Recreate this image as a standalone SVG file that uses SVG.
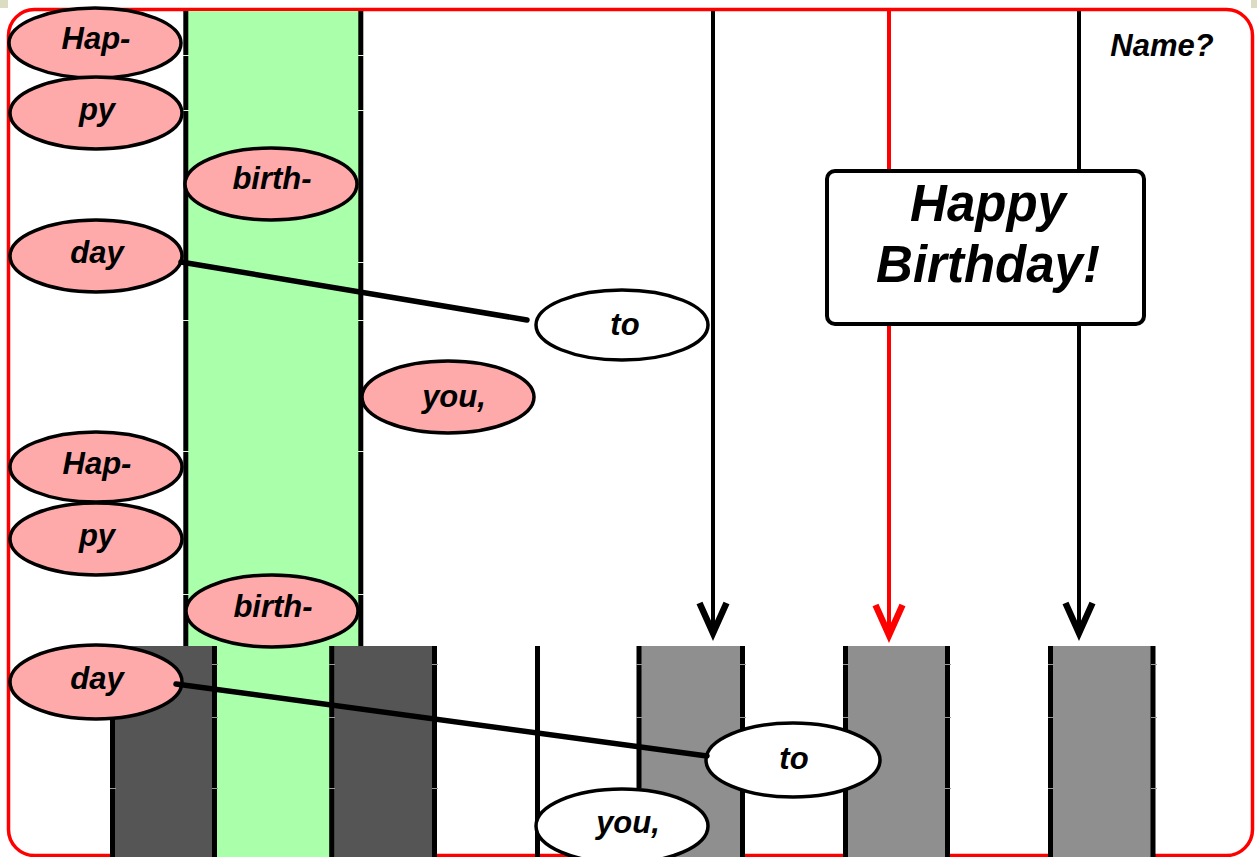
<svg xmlns="http://www.w3.org/2000/svg" width="1257" height="857" viewBox="0 0 1257 857">
<style>
.lbl{font-family:"Liberation Sans",Arial,sans-serif;font-weight:bold;font-style:italic;font-size:31px;fill:#000;text-anchor:middle}
.big{font-size:51px}
.pink{fill:#ffaaaa;stroke:#000;stroke-width:3.5}
.white{fill:#fff;stroke:#000;stroke-width:3.5}
.edge{stroke:#000;stroke-width:5}
.tickG{stroke:#d8ffd8;stroke-width:1}
.tickD{stroke:#9a9a9a;stroke-width:1}
.conn{stroke:#000;stroke-width:5.5;stroke-linecap:round;fill:none}
.vk{stroke:#000;stroke-width:4;fill:none}
.vr{stroke:#ff0000;stroke-width:4;fill:none}
</style>
<defs>
<marker id="arrK" markerUnits="userSpaceOnUse" orient="auto" refX="0" refY="0" markerWidth="60" markerHeight="40" overflow="visible">
<path d="M-33,-13.5 L-3,0 L-33,13.5" fill="none" stroke="#000" stroke-width="6.5" stroke-linejoin="miter" stroke-miterlimit="10"/>
</marker>
<marker id="arrR" markerUnits="userSpaceOnUse" orient="auto" refX="0" refY="0" markerWidth="60" markerHeight="40" overflow="visible">
<path d="M-33,-13.5 L-3,0 L-33,13.5" fill="none" stroke="#ff0000" stroke-width="6.5" stroke-linejoin="miter" stroke-miterlimit="10"/>
</marker>
</defs>
<rect x="0" y="0" width="1257" height="857" fill="#fff"/>
<rect x="0" y="0" width="8" height="8" fill="#dcdcc2"/>
<rect x="1251" y="0" width="6" height="8" fill="#dcdcc2"/>
<rect id="frame" x="8.5" y="9.5" width="1244" height="846" rx="26" fill="none" stroke="#ff0000" stroke-width="3.5"/>

<g id="column">
<rect x="186" y="11" width="175" height="846" fill="#aaffaa"/>
<line class="edge" x1="185.8" y1="11" x2="185.8" y2="646"/>
<line class="edge" x1="360.8" y1="11" x2="360.8" y2="646"/>
<g class="tickG">
<path d="M183,55.5h6M358,55.5h6M183,110.5h6M358,110.5h6M183,262.5h6M358,262.5h6M183,320.5h6M358,320.5h6M183,451.5h6M358,451.5h6M183,594.5h6M358,594.5h6"/>
</g>
</g>

<g id="bars">
<rect x="112" y="646" width="102" height="211" fill="#555555"/>
<rect x="331" y="646" width="103" height="211" fill="#555555"/>
<rect x="639" y="646" width="103" height="211" fill="#8f8f8f"/>
<rect x="845" y="646" width="102" height="211" fill="#8f8f8f"/>
<rect x="1050" y="646" width="103" height="211" fill="#8f8f8f"/>
<path class="edge" d="M112.5,646V857M214.5,646V857M331.7,646V857M434.5,646V857M537.5,646V857M639,646V857M742.5,646V857M845.5,646V857M947.5,646V857M1050.5,646V857M1153,646V857"/>
<path class="tickD" d="M110,664.5h6M212,664.5h6M329,664.5h6M432,664.5h6M636,664.5h6M740,664.5h6M843,664.5h6M945,664.5h6M1048,664.5h6M1151,664.5h6M110,717.5h6M212,717.5h6M329,717.5h6M432,717.5h6M636,717.5h6M740,717.5h6M843,717.5h6M945,717.5h6M1048,717.5h6M1151,717.5h6M110,788.5h6M212,788.5h6M329,788.5h6M432,788.5h6M636,788.5h6M740,788.5h6M843,788.5h6M945,788.5h6M1048,788.5h6M1151,788.5h6"/>
</g>

<g id="n-hap1"><ellipse class="pink" cx="95" cy="43" rx="86" ry="35"/><text class="lbl" x="96" y="49">Hap-</text></g>
<g id="n-py1"><ellipse class="pink" cx="96" cy="113" rx="86" ry="36"/><text class="lbl" x="97" y="120">py</text></g>
<g id="n-birth1"><ellipse class="pink" cx="271" cy="184" rx="86" ry="36"/><text class="lbl" x="272" y="189">birth-</text></g>
<g id="n-day1"><ellipse class="pink" cx="96" cy="256" rx="86" ry="36"/><text class="lbl" x="97" y="263">day</text></g>
<g id="n-to1"><ellipse class="white" cx="622" cy="325" rx="86" ry="35"/><text class="lbl" x="625" y="335">to</text></g>
<g id="n-you1"><ellipse class="pink" cx="448" cy="397" rx="86" ry="36"/><text class="lbl" x="454" y="407">you,</text></g>
<g id="n-hap2"><ellipse class="pink" cx="96" cy="467" rx="86" ry="35"/><text class="lbl" x="97" y="474">Hap-</text></g>
<g id="n-py2"><ellipse class="pink" cx="96" cy="539" rx="86" ry="36"/><text class="lbl" x="97" y="546">py</text></g>
<g id="n-birth2"><ellipse class="pink" cx="272" cy="611" rx="86" ry="36"/><text class="lbl" x="273" y="617">birth-</text></g>
<g id="n-day2"><ellipse class="pink" cx="96" cy="682" rx="86" ry="37"/><text class="lbl" x="97" y="689">day</text></g>
<g id="n-to2"><ellipse class="white" cx="793" cy="760" rx="87" ry="37"/><text class="lbl" x="794" y="769">to</text></g>
<g id="n-you2"><ellipse class="white" cx="622" cy="826" rx="86" ry="37"/><text class="lbl" x="628" y="833">you,</text></g>

<g id="connectors">
<line class="conn" x1="181" y1="262" x2="527" y2="320"/>
<line class="conn" x1="176" y1="684" x2="707" y2="756"/>
<line class="vk" x1="713" y1="11" x2="713" y2="636" marker-end="url(#arrK)"/>
<line class="vr" x1="889" y1="11" x2="889" y2="171"/>
<line class="vr" x1="889" y1="324" x2="889" y2="638" marker-end="url(#arrR)"/>
<line class="vk" x1="1079" y1="11" x2="1079" y2="171"/>
<line class="vk" x1="1079" y1="324" x2="1079" y2="636" marker-end="url(#arrK)"/>
</g>

<g id="n-banner">
<rect x="827" y="171" width="317" height="153" rx="8" fill="#fff" stroke="#000" stroke-width="4"/>
<text class="lbl big" x="988" y="221">Happy</text>
<text class="lbl big" x="988" y="282">Birthday!</text>
</g>
<g id="n-name"><text class="lbl" x="1162" y="56">Name?</text></g>
</svg>
